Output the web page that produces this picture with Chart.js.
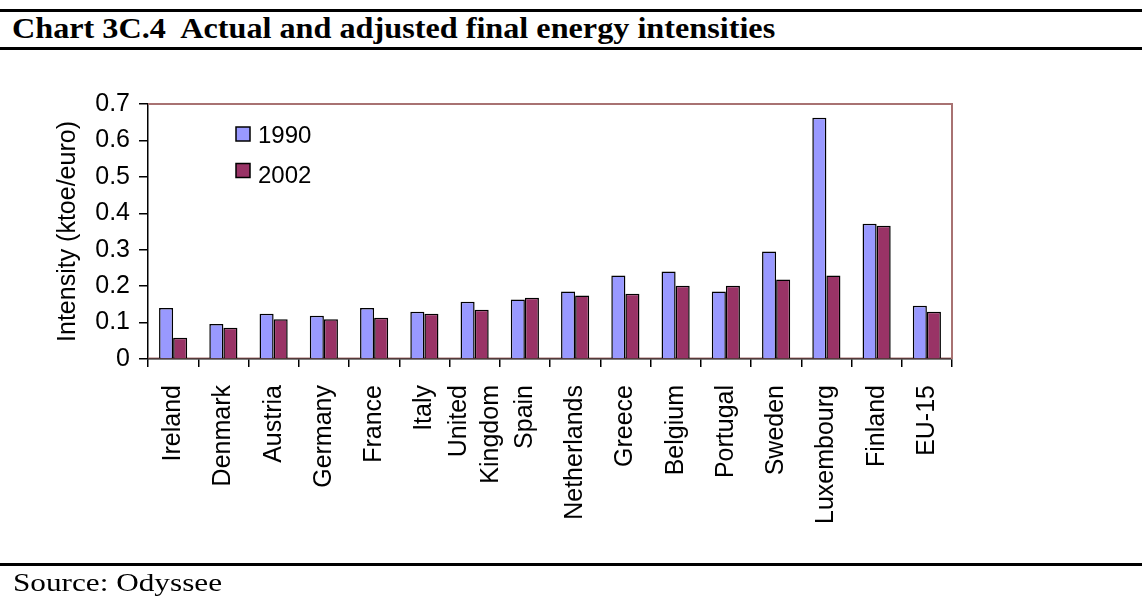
<!DOCTYPE html>
<html>
<head>
<meta charset="utf-8">
<script src="https://cdn.jsdelivr.net/npm/chart.js@4.4.1/dist/chart.umd.min.js"></script>
<style>
html,body{margin:0;padding:0;background:#fff;width:1142px;height:597px;overflow:hidden;}
body{position:relative;}
.rule{position:absolute;left:0;width:1142px;background:#000;}
#title{position:absolute;left:12px;top:14px;font:bold 29px "Liberation Serif","Times New Roman",serif;line-height:29px;white-space:nowrap;transform-origin:0 0;color:#000;}
#source{position:absolute;left:13px;top:570px;font:26px "Liberation Serif","Times New Roman",serif;line-height:26px;white-space:nowrap;transform-origin:0 0;color:#000;}
#wrap{position:absolute;left:0;top:0;width:1142px;height:597px;}
</style>
</head>
<body>
<div class="rule" style="top:9px;height:3px"></div>
<div id="title">Chart 3C.4&nbsp; Actual and adjusted final energy intensities</div>
<div class="rule" style="top:47px;height:3px"></div>
<div id="wrap"><canvas id="c" width="1142" height="597"></canvas></div>
<div class="rule" style="top:563px;height:3px"></div>
<div id="source">Source: Odyssee</div>
<script>
const categories = ['Ireland','Denmark','Austria','Germany','France','Italy',['United','Kingdom'],'Spain','Netherlands','Greece','Belgium','Portugal','Sweden','Luxembourg','Finland','EU-15'];
const seriesNames = ['1990','2002'];
const values1990 = [0.140,0.096,0.124,0.119,0.140,0.130,0.157,0.163,0.185,0.229,0.240,0.185,0.295,0.662,0.371,0.146];
const values2002 = [0.058,0.086,0.109,0.109,0.113,0.124,0.135,0.168,0.174,0.179,0.201,0.201,0.218,0.229,0.366,0.130];
const yTickLabels = ['0','0.1','0.2','0.3','0.4','0.5','0.6','0.7'];
const yAxisTitle = 'Intensity (ktoe/euro)';

// fit title/source widths to the reference
(function(){
  const t=document.getElementById('title');
  t.style.transform='scaleX('+(763/t.offsetWidth)+')';
  const s=document.getElementById('source');
  s.style.transform='scaleX('+(209/s.offsetWidth)+')';
})();

const FONT = '"Liberation Sans", Arial, sans-serif';

const plotBorder = {
  id:'plotBorder',
  beforeDatasetsDraw(chart){
    const {ctx, chartArea:a} = chart;
    ctx.save();
    ctx.strokeStyle = '#a87272';
    ctx.lineWidth = 2;
    ctx.beginPath();
    ctx.moveTo(a.left, a.top);
    ctx.lineTo(a.right, a.top);
    ctx.lineTo(a.right, a.bottom);
    ctx.stroke();
    ctx.lineWidth = 1;
    ctx.beginPath();
    ctx.moveTo(a.left, a.bottom-1);
    ctx.lineTo(a.right, a.bottom-1);
    ctx.stroke();
    ctx.restore();
  }
};

const innerLegend = {
  id:'innerLegend',
  afterDatasetsDraw(chart){
    const {ctx, chartArea:a} = chart;
    const rows = [{sq:23, base:39}, {sq:59.5, base:79}];
    ctx.save();
    chart.data.datasets.forEach((ds,i)=>{
      const r = rows[i];
      ctx.fillStyle = ds.backgroundColor;
      ctx.fillRect(a.left+88, a.top+r.sq, 14, 14);
      ctx.strokeStyle = '#000';
      ctx.lineWidth = 1.5;
      ctx.strokeRect(a.left+88, a.top+r.sq, 14, 14);
      ctx.fillStyle = '#000';
      ctx.font = '24px ' + FONT;
      ctx.textBaseline = 'alphabetic';
      ctx.textAlign = 'left';
      ctx.fillText(ds.label, a.left+110, a.top+r.base);
    });
    ctx.restore();
  }
};

// rotated category labels, multi-line labels centred on the category
const xLabels = {
  id:'xLabels',
  afterDraw(chart){
    const {ctx} = chart;
    const xs = chart.scales.x;
    const top = xs.top + 26;
    const lh = 32;
    ctx.save();
    ctx.fillStyle = '#000';
    ctx.font = '25px ' + FONT;
    ctx.textAlign = 'right';
    ctx.textBaseline = 'middle';
    chart.data.labels.forEach((lab,i)=>{
      const lines = Array.isArray(lab) ? lab : [lab];
      const cx = xs.getPixelForValue(i);
      lines.forEach((ln,j)=>{
        const x = cx + (j - (lines.length-1)/2)*lh;
        ctx.save();
        ctx.translate(x, top);
        ctx.rotate(-Math.PI/2);
        ctx.fillText(ln, 0, 0);
        ctx.restore();
      });
    });
    ctx.restore();
  }
};

new Chart(document.getElementById('c'), {
  type:'bar',
  data:{
    labels: categories,
    datasets:[
      {label:seriesNames[0], data:values1990, backgroundColor:'#9999ff', borderColor:'#000', borderWidth:1.5, categoryPercentage:0.56, barPercentage:1.0},
      {label:seriesNames[1], data:values2002, backgroundColor:'#993366', borderColor:'#000', borderWidth:1.5, categoryPercentage:0.56, barPercentage:1.0}
    ]
  },
  options:{
    responsive:false,
    animation:false,
    layout:{padding:{left:0, top:104, right:190, bottom:0}},
    plugins:{legend:{display:false}, tooltip:{enabled:false}},
    scales:{
      x:{
        grid:{display:true, drawOnChartArea:false, drawTicks:true, tickLength:8, color:'#000', lineWidth:1.5, offset:true},
        border:{display:true, color:'#000', width:1.5},
        ticks:{display:false, autoSkip:false},
        afterFit(s){ s.height = 238; }
      },
      y:{
        min:0, max:0.7,
        grid:{display:true, drawOnChartArea:false, drawTicks:true, tickLength:9, color:'#000', lineWidth:1.5},
        border:{display:true, color:'#000', width:1.5},
        ticks:{stepSize:0.1, padding:9, font:{family:FONT, size:25}, color:'#000',
          callback:(v,i)=> yTickLabels[Math.round(v*10)]},
        title:{display:true, text:yAxisTitle, color:'#000', font:{family:FONT, size:25}, padding:{top:53, bottom:0}},
        afterFit(s){ s.width = 148; }
      }
    }
  },
  plugins:[plotBorder, innerLegend, xLabels]
});
</script>
</body>
</html>
